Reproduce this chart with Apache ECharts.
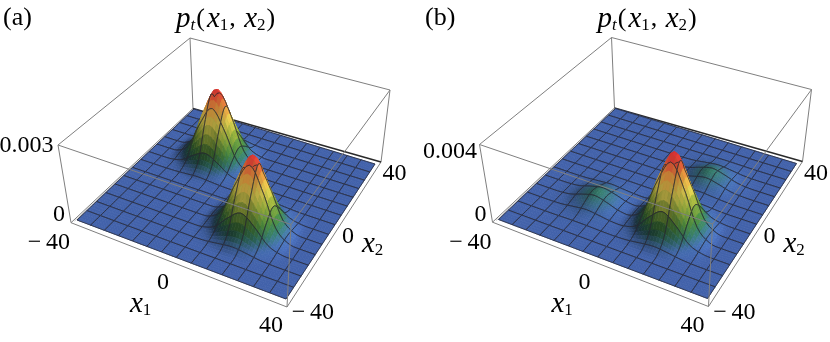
<!DOCTYPE html>
<html><head><meta charset="utf-8">
<style>html,body{margin:0;padding:0;background:#fff}#c{width:830px;height:342px}</style>
<script src="https://cdn.jsdelivr.net/npm/echarts@6/dist/echarts.min.js"></script>
</head><body><div id="c"></div>
<script>
// Axis values of the height table
const x1Nodes = [-40,-35,-30,-25,-20,-15,-10,-5,0,5,10,15,20,25,30,35,40];
const x2Nodes = [-40,-35,-30,-25,-20,-15,-10,-5,0,5,10,15,20,25,30,35,40];
// Heights p_t in units of 1e-5; rows are x2 = -40..40, columns are x1 = -40..40
const heightsA = [
[0,0,0,0,0,0,0,0,0,0,0,0,0,0,0,0,0],
[0,0,0,0,0,0,0,0,0,0,0,0,0,0,0,0,0],
[0,0,0,0,0,0,0,0,0,1,4,7,4,1,0,0,0],
[0,0,0,0,0,0,0,0,1,10,36,54,36,10,1,0,0],
[0,0,0,0,0,0,0,0,4,36,123,185,123,36,4,0,0],
[0,0,0,0,0,0,0,0,7,54,185,280,185,54,7,0,0],
[0,0,0,0,0,0,0,0,4,36,123,185,123,36,4,0,0],
[0,0,0,0,0,0,0,0,1,10,36,54,36,10,1,0,0],
[0,0,0,1,4,7,4,1,0,1,4,7,4,1,0,0,0],
[0,0,1,10,36,54,36,10,1,0,0,0,0,0,0,0,0],
[0,0,4,36,123,185,123,36,4,0,0,0,0,0,0,0,0],
[0,0,7,54,185,280,185,54,7,0,0,0,0,0,0,0,0],
[0,0,4,36,123,185,123,36,4,0,0,0,0,0,0,0,0],
[0,0,1,10,36,54,36,10,1,0,0,0,0,0,0,0,0],
[0,0,0,1,4,7,4,1,0,0,0,0,0,0,0,0,0],
[0,0,0,0,0,0,0,0,0,0,0,0,0,0,0,0,0],
[0,0,0,0,0,0,0,0,0,0,0,0,0,0,0,0,0]
];
const heightsB = [
[0,0,0,0,0,0,0,0,0,0,0,0,0,0,0,0,0],
[0,0,0,0,0,0,0,0,0,0,0,0,0,0,0,0,0],
[0,0,0,0,1,1,1,0,0,2,6,9,6,2,0,0,0],
[0,0,0,2,6,10,6,2,2,14,49,74,49,14,2,0,0],
[0,0,1,6,22,33,22,6,7,49,170,257,170,49,6,0,0],
[0,0,1,10,33,50,33,10,10,74,257,388,257,74,9,0,0],
[0,0,1,6,22,33,22,6,7,49,170,257,170,49,6,0,0],
[0,0,0,2,6,10,6,2,2,14,49,74,49,14,2,0,0],
[0,0,0,0,1,1,1,0,0,2,7,10,7,2,0,0,0],
[0,0,0,0,0,0,0,0,0,2,6,10,6,2,0,0,0],
[0,0,0,0,0,0,0,0,1,6,22,33,22,6,1,0,0],
[0,0,0,0,0,0,0,0,1,10,33,50,33,10,1,0,0],
[0,0,0,0,0,0,0,0,1,6,22,33,22,6,1,0,0],
[0,0,0,0,0,0,0,0,0,2,6,10,6,2,0,0,0],
[0,0,0,0,0,0,0,0,0,0,1,1,1,0,0,0,0],
[0,0,0,0,0,0,0,0,0,0,0,0,0,0,0,0,0],
[0,0,0,0,0,0,0,0,0,0,0,0,0,0,0,0,0]
];
const zMaxA = 300, zMaxB = 400;
const panelLabels = ['(a)','(b)'];
const zTickTop = ['0.003','0.004'];
const zeroTick = '0', farTick = '40', nearTick = '\u2212\u200940';

// Camera of the picture: corners of the box, in the order (-40,-40), (40,-40), (40,40), (-40,40)
const OFF = [421.5, -0.5];
const surfCorners = [[77,220],[286,299],[375,164],[194,109]];
const boxLow = [[71,222.7],[287,307],[381,162],[193,108.5]];
const boxTop = [[58,145],[291,224.5],[390,90],[190,38]];

function homography(p){
  const [x0,y0]=p[0],[x1,y1]=p[1],[x2,y2]=p[2],[x3,y3]=p[3];
  const dx1=x1-x2,dx2=x3-x2,sx=x0-x1+x2-x3,dy1=y1-y2,dy2=y3-y2,sy=y0-y1+y2-y3;
  const det=dx1*dy2-dx2*dy1;
  const g=(sx*dy2-dx2*sy)/det,h=(dx1*sy-sx*dy1)/det;
  const a=x1-x0+g*x1,b=x3-x0+h*x3,c=x0,d=y1-y0+g*y1,e=y3-y0+h*y3,f=y0;
  return (u,v)=>{const w=g*u+h*v+1;return [(a*u+b*v+c)/w,(d*u+e*v+f)/w];};
}
const Hs=homography(surfCorners),H0=homography(boxLow),H1=homography(boxTop);
function project(x1,x2,t,off){
  const u=(x1+40)/80,v=(x2+40)/80;
  const s=Hs(u,v),a=H0(u,v),b=H1(u,v);
  return [s[0]+t*(b[0]-a[0])+off[0], s[1]+t*(b[1]-a[1])+off[1]];
}
// smooth surface through the table (Catmull-Rom), as a smooth-shaded plot does
const MESH=14, SUB=5, STEP=80/(MESH*SUB), NODE=x1Nodes[1]-x1Nodes[0];
function cr(a,b,c,d,t){return 0.5*(2*b+(c-a)*t+(2*a-5*b+4*c-d)*t*t+(3*b-a-3*c+d)*t*t*t);}
function sampler(grid,zMax){
  const n=grid.length, N=MESH*SUB+1, out=[];
  const g=(r,c)=>grid[Math.max(0,Math.min(n-1,r))][Math.max(0,Math.min(n-1,c))];
  for(let j=0;j<N;j++){
    const row=[], rr=j*STEP/NODE, r=Math.min(n-2,Math.floor(rr)), fr=rr-r;
    for(let i=0;i<N;i++){
      const cc=i*STEP/NODE, c=Math.min(n-2,Math.floor(cc)), fc=cc-c, k=[];
      for(let q=-1;q<=2;q++) k.push(cr(g(r+q,c-1),g(r+q,c),g(r+q,c+1),g(r+q,c+2),fc));
      row.push(Math.max(0,Math.min(1,cr(k[0],k[1],k[2],k[3],fr)/zMax)));
    }
    out.push(row);
  }
  return out;
}
const ramp=[[0,66,98,170],[0.04,62,100,160],[0.12,50,115,100],[0.22,72,135,60],[0.38,150,175,60],[0.55,228,208,82],[0.72,228,150,62],[0.88,214,62,50],[1,200,40,50]];
function shade(t,nx,ny,nz){
  let i=0; while(i<ramp.length-2&&t>ramp[i+1][0]) i++;
  const a=ramp[i],b=ramp[i+1],f=Math.min(1,(t-a[0])/(b[0]-a[0]));
  const L=[0.62,0.12,0.775];
  const s=(nx*L[0]+ny*L[1]+nz*L[2])/L[2];
  const m=0.28+0.72*Math.max(0,s);
  const k=Math.min(1.25,Math.max(m,0.42+0.6*t));
  return 'rgb('+[1,2,3].map(q=>Math.round(Math.min(255,(a[q]+(b[q]-a[q])*f)*k))).join(',')+')';
}
function surfaceSeries(grid,zMax,off,name){
  const S=sampler(grid,zMax),N=S.length,ZS=32;
  const cells=[];
  for(let r=MESH-1;r>=0;r--) for(let c=0;c<MESH;c++) cells.push([c,r]);
  const at=(i,j)=>S[Math.max(0,Math.min(N-1,j))][Math.max(0,Math.min(N-1,i))];
  const pt=(api,i,j)=>api.coord(project(-40+i*STEP,-40+j*STEP,at(i,j),off));
  return {type:'custom',name,coordinateSystem:'cartesian2d',silent:true,animation:false,clip:false,z:2,
    data:cells,encode:{x:0,y:1},
    renderItem(p,api){
      const c=api.value(0),r=api.value(1),kids=[];
      const i0=c*SUB,j0=r*SUB;
      for(let j=j0+SUB-1;j>=j0;j--) for(let i=i0;i<i0+SUB;i++){
        const dx=(at(i+1,j)+at(i+1,j+1)-at(i,j)-at(i,j+1))/2*ZS/STEP;
        const dy=(at(i,j+1)+at(i+1,j+1)-at(i,j)-at(i+1,j))/2*ZS/STEP;
        const l=Math.hypot(dx,dy,1);
        const col=shade((at(i,j)+at(i+1,j)+at(i,j+1)+at(i+1,j+1))/4,-dx/l,-dy/l,1/l);
        kids.push({type:'polygon',shape:{points:[pt(api,i,j),pt(api,i+1,j),pt(api,i+1,j+1),pt(api,i,j+1)]},
          style:{fill:col,stroke:col,lineWidth:0.7}});
      }
      const edge=(a,b,fn)=>{const pts=[];for(let q=a;q<=b;q++)pts.push(fn(q));
        kids.push({type:'polyline',shape:{points:pts},style:{fill:'none',stroke:'rgba(38,38,48,0.78)',lineWidth:1}});};
      edge(i0,i0+SUB,q=>pt(api,q,j0));
      edge(i0,i0+SUB,q=>pt(api,q,j0+SUB));
      edge(j0,j0+SUB,q=>pt(api,i0,q));
      edge(j0,j0+SUB,q=>pt(api,i0+SUB,q));
      return {type:'group',children:kids};
    }};
}
function frameSeries(edges,off,z,color,width){
  return {type:'custom',coordinateSystem:'cartesian2d',silent:true,animation:false,clip:false,z,
    data:edges.map((e,i)=>[i,0]),encode:{x:0,y:1},
    renderItem(p,api){
      const e=edges[api.value(0)];
      const a=api.coord([e[0][0]+off[0],e[0][1]+off[1]]),b=api.coord([e[1][0]+off[0],e[1][1]+off[1]]);
      return {type:'line',shape:{x1:a[0],y1:a[1],x2:b[0],y2:b[1]},style:{stroke:color,lineWidth:width}};
    }};
}
const L=boxLow,T=boxTop;
const backEdges=[[L[0],L[3]],[L[3],T[3]],[T[3],T[0]],[T[3],T[2]],[L[0],T[0]],[L[2],T[2]],[L[0],L[1]],[L[1],L[2]]];
const backDark=[[L[3],L[2]]];
const sideSoft=[[[74.5,221],[193.5,109.5]]];
const frontEdges=[[T[0],T[1]],[T[1],T[2]],[L[1],T[1]]];
const GRAY='#7f7f7f';
const series=[];
[[heightsA,zMaxA,[0,0],'a'],[heightsB,zMaxB,OFF,'b']].forEach(([g,m,o,n])=>{
  series.push(frameSeries(backEdges,o,1,GRAY,1));
  series.push(frameSeries(sideSoft,o,1,'#c4c4c4',1));
  series.push(frameSeries(backDark,o,1,'#2a2a2a',1.6));
  series.push(surfaceSeries(g,m,o,n));
  series.push(frameSeries(frontEdges,o,3,GRAY,1));
});
const SERIF='"Liberation Serif","Times New Roman",serif';
function txt(x,y,text,align,size){return {type:'text',x,y,silent:true,z:10,style:{text,x:0,y:0,align:align||'center',verticalAlign:'middle',font:(size||24)+'px '+SERIF,fill:'#000'}};}
const mathRich={i:{fontFamily:SERIF,fontStyle:'italic',fontSize:29,lineHeight:30,fill:'#000',verticalAlign:'middle'},
  n:{fontFamily:SERIF,fontSize:26,lineHeight:30,fill:'#000',verticalAlign:'middle',padding:[0,2,0,1]},
  s:{fontFamily:SERIF,fontSize:17,lineHeight:30,fill:'#000',verticalAlign:'bottom'},
  t:{fontFamily:SERIF,fontStyle:'italic',fontSize:17,lineHeight:30,fill:'#000',verticalAlign:'bottom'}};
function math(x,y,text,align){return {type:'text',x,y,silent:true,z:10,style:{text,x:0,y:0,align:align||'left',verticalAlign:'middle',rich:mathRich,fill:'#000'}};}
const graphics=[];
[[0,panelLabels[0],zTickTop[0],146,3],[1,panelLabels[1],zTickTop[1],152,425]].forEach(([k,lab,top,topY,labX])=>{
  const d=k?421.5:0;
  graphics.push(txt(labX,18,lab,'left',26));
  graphics.push(math(176+d,19,'{i|p}{t|t}{n|(}{i|x}{s|1}{n|, }{i|x}{s|2}{n|)}'));
  graphics.push(txt(k?477:53.5,topY,top,'right'));
  graphics.push(txt(59+d,215,zeroTick));
  graphics.push(txt(70+d,243,nearTick,'right'));
  graphics.push(txt(163+d,283,zeroTick));
  graphics.push(math(130+d,304,'{i|x}{s|1}'));
  graphics.push(txt(271+d,326,farTick));
  graphics.push(txt(334+d,313,nearTick,'right'));
  graphics.push(txt(348+d,237,zeroTick));
  graphics.push(math(362+d,244,'{i|x}{s|2}'));
  graphics.push(txt(394.5+d,174,farTick));
});
const chart=echarts.init(document.getElementById('c'),null,{renderer:'canvas'});
chart.setOption({animation:false,backgroundColor:'#fff',
  grid:{left:0,right:0,top:0,bottom:0},
  xAxis:{type:'value',min:0,max:830,show:false},
  yAxis:{type:'value',min:0,max:342,inverse:true,show:false},
  tooltip:{show:false},series,graphic:graphics});
</script></body></html>
